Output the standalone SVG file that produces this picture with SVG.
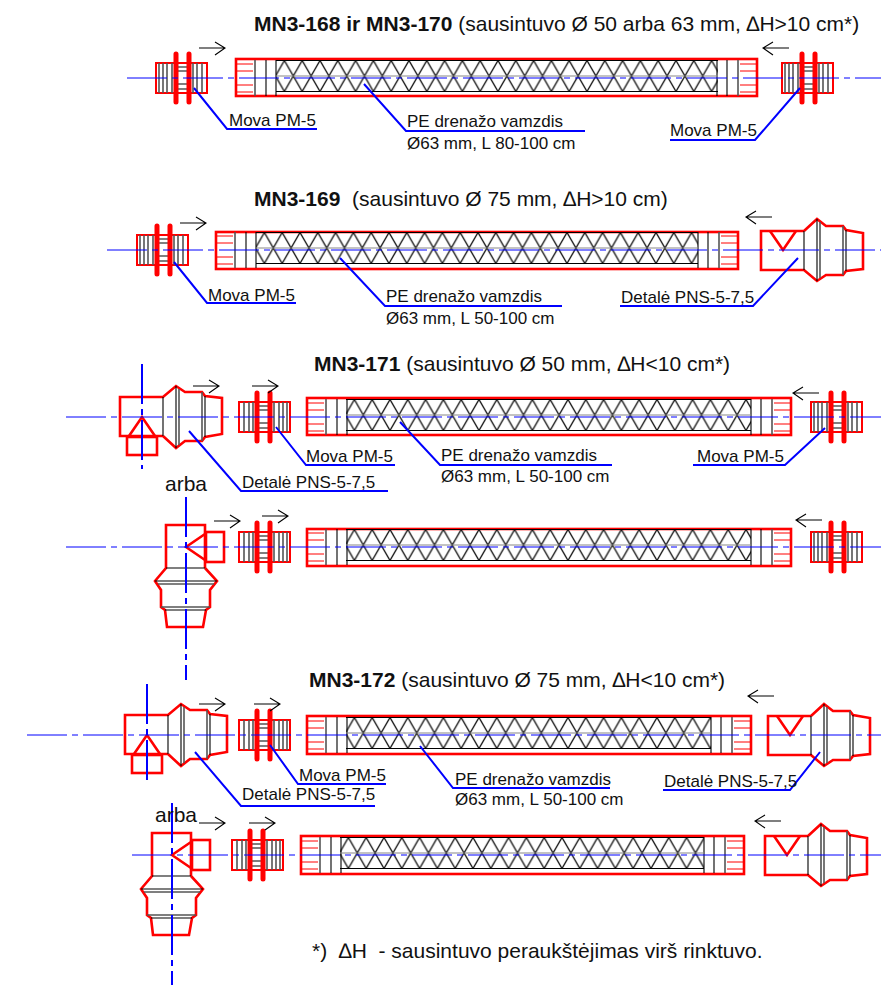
<svg xmlns="http://www.w3.org/2000/svg" width="881" height="985" viewBox="0 0 881 985">
<style>
text{font-family:"Liberation Sans",Arial,sans-serif;fill:#111;white-space:pre}
.t{font-size:21px}.t tspan{font-weight:bold}
.l{font-size:17px}.s{font-size:17px}.a{font-size:21px}
.r{fill:none;stroke:#f00;stroke-width:2.6;stroke-linejoin:miter}
.r2{fill:none;stroke:#f00;stroke-width:2}
.r1{fill:none;stroke:#f00;stroke-width:1}
.f{fill:none;stroke:#f00;stroke-width:5;stroke-linecap:round}
.k{fill:none;stroke:#000;stroke-width:1.1}
.g{fill:none;stroke:#555;stroke-width:1.6}
.m{fill:none;stroke:#888;stroke-width:1.2}
.c{fill:none;stroke:#00f;stroke-width:1;stroke-dasharray:40 5 6 5}
.v{fill:none;stroke:#00f;stroke-width:2;stroke-dasharray:40 5 6 5}
.q{fill:none;stroke:#00f;stroke-width:2}
.w{fill:none;stroke:#000;stroke-width:1.1}
</style>
<defs>
<pattern id="lat" patternUnits="userSpaceOnUse" x="8.4" y="-17.5" width="17.8" height="31">
<path fill="none" stroke="#000" stroke-width="1.2" d="M-1 -1.740L18.800 32.740M18.800 -1.740L-1 32.740"/>
</pattern>
<g id="arrow"><path class="w" d="M0 0H26M16 -6L26 0L16 7"/></g>
<g id="mova">
<rect class="r2" x="0" y="-15" width="51" height="30"/>
<path class="g" d="M3 -15V15M7 -15V15M11 -15V15M16 -15V15M37 -15V15M41 -15V15M46 -15V15"/>
<path class="k" d="M20 -11H33M20 -7H33M20 6H33M20 11H33"/>
<path class="f" d="M20 -24V24M33 -24V24"/>
</g>
<g id="cap">
<path class="r1" d="M1 -14H17M1 -7H17M1 7H17M1 14H17"/>
<path class="g" d="M19 -18V18"/>
<path class="k" d="M30 -18V18M40 -18V18"/>
</g>
<g id="pns">
<path class="r" d="M43 -19L56 -31L65 -24H82L85 -20L102 -17V19L85 21L82 25H65L56 31L43 20H0V-19H43"/>
<path class="r" d="M9 -19L22 0L35 -19"/>
<path class="k" d="M43 -19V20M56 -31V31M85 -20V21"/>
<path class="g" d="M59 -28V28M82 -24V25"/>
</g>
<rect id="sock" class="r" x="7" y="-38" width="30" height="18"/>
</defs>

<g id="tube-168">
<g transform="translate(276,78)"><rect class="r" x="-40" y="-19" width="521" height="37"/><use href="#cap" transform="translate(-40,0)"/><use href="#cap" transform="translate(481,0) scale(-1,1)"/><rect fill="url(#lat)" width="442" height="31" y="-17.500"/><path class="k" d="M0 -17.500H442M0 13.500H442"/><path class="m" d="M0 -2H442"/></g>
</g>
<g id="tube-169">
<g transform="translate(256,250)"><rect class="r" x="-40" y="-18" width="522" height="37"/><use href="#cap" transform="translate(-40,0)"/><use href="#cap" transform="translate(482,0) scale(-1,1)"/><rect fill="url(#lat)" width="442" height="31" y="-17.500"/><path class="k" d="M0 -17.500H442M0 13.500H442"/><path class="m" d="M0 -2H442"/></g>
</g>
<g id="tube-171">
<g transform="translate(346,417)"><rect class="r" x="-39" y="-19" width="484" height="37"/><use href="#cap" transform="translate(-39,0)"/><use href="#cap" transform="translate(445,0) scale(-1,1)"/><rect fill="url(#lat)" width="405" height="31" y="-17.500"/><path class="k" d="M0 -17.500H405M0 13.500H405"/><path class="m" d="M0 -2H405"/></g>
</g>
<g id="tube-171b">
<g transform="translate(346,547)"><rect class="r" x="-39" y="-18" width="484" height="37"/><use href="#cap" transform="translate(-39,0)"/><use href="#cap" transform="translate(445,0) scale(-1,1)"/><rect fill="url(#lat)" width="405" height="31" y="-17.500"/><path class="k" d="M0 -17.500H405M0 13.500H405"/><path class="m" d="M0 -2H405"/></g>
</g>
<g id="tube-172">
<g transform="translate(346,735)"><rect class="r" x="-39" y="-19" width="444" height="38"/><use href="#cap" transform="translate(-39,0)"/><use href="#cap" transform="translate(405,0) scale(-1,1)"/><rect fill="url(#lat)" width="365" height="31" y="-17.500"/><path class="k" d="M0 -17.500H365M0 13.500H365"/><path class="m" d="M0 -2H365"/></g>
</g>
<g id="tube-172b">
<g transform="translate(340,855)"><rect class="r" x="-39" y="-19" width="443" height="38"/><use href="#cap" transform="translate(-39,0)"/><use href="#cap" transform="translate(404,0) scale(-1,1)"/><rect fill="url(#lat)" width="364" height="31" y="-17.500"/><path class="k" d="M0 -17.500H364M0 13.500H364"/><path class="m" d="M0 -2H364"/></g>
</g>

<g id="mova-1"><use href="#mova" transform="translate(156,78)"/></g>
<g id="mova-2"><use href="#mova" transform="translate(782,78)"/></g>
<g id="mova-3"><use href="#mova" transform="translate(137,250)"/></g>
<g id="mova-4"><use href="#mova" transform="translate(290,417) scale(-1,1)"/></g>
<g id="mova-5"><use href="#mova" transform="translate(811,417)"/></g>
<g id="mova-6"><use href="#mova" transform="translate(290,547) scale(-1,1)"/></g>
<g id="mova-7"><use href="#mova" transform="translate(811,547)"/></g>
<g id="mova-8"><use href="#mova" transform="translate(290,735) scale(-1,1)"/></g>
<g id="mova-9"><use href="#mova" transform="translate(283,855) scale(-1,1)"/></g>

<g id="pns-1"><use href="#pns" transform="translate(761,250)"/></g>
<g id="pns-2"><use href="#pns" transform="translate(120,417) scale(1,-1)"/><use href="#sock" transform="translate(120,417) scale(1,-1)"/></g>
<g id="pns-3"><use href="#pns" transform="translate(186,525) rotate(90)"/><use href="#sock" transform="translate(186,525) rotate(90)"/></g>
<g id="pns-4"><use href="#pns" transform="translate(125,735) scale(1,-1)"/><use href="#sock" transform="translate(125,735) scale(1,-1)"/></g>
<g id="pns-5"><use href="#pns" transform="translate(768,735)"/></g>
<g id="pns-6"><use href="#pns" transform="translate(172,833) rotate(90)"/><use href="#sock" transform="translate(172,833) rotate(90)"/></g>
<g id="pns-7"><use href="#pns" transform="translate(765,855)"/></g>

<g id="connectors">
<path class="c" d="M127 78H881"/>
<path class="c" d="M107 250H881"/>
<path class="c" d="M66 417H881"/>
<path class="c" d="M66 547H881"/>
<path class="c" d="M27 735H881"/>
<path class="c" d="M132 855H881"/>
<path class="v" d="M142 364V469"/>
<path class="v" d="M186 497V680"/>
<path class="v" d="M147 684V780"/>
<path class="v" d="M172 803V985"/>
<path class="q" d="M194 88L227 129H317"/>
<path class="q" d="M364 84L406 131H585"/>
<path class="q" d="M800 88L755 140H670"/>
<path class="q" d="M174 262L207 303H296"/>
<path class="q" d="M340 258L385 306H562"/>
<path class="q" d="M798 258L753 306H620"/>
<path class="q" d="M276 427L306 465H395"/>
<path class="q" d="M400 422L440 465H612"/>
<path class="q" d="M825 428L785 465H693"/>
<path class="q" d="M189 431L241 491H388"/>
<path class="q" d="M270 745L298 784H386"/>
<path class="q" d="M420 746L453 788H610"/>
<path class="q" d="M820 752L790 790H663"/>
<path class="q" d="M195 752L241 806H375"/>
<use href="#arrow" transform="translate(199,48)"/>
<use href="#arrow" transform="translate(789,48) scale(-1,1)"/>
<use href="#arrow" transform="translate(180,223)"/>
<use href="#arrow" transform="translate(772,217) scale(-1,1)"/>
<use href="#arrow" transform="translate(193,386)"/>
<use href="#arrow" transform="translate(252,386)"/>
<use href="#arrow" transform="translate(819,393) scale(-1,1)"/>
<use href="#arrow" transform="translate(214,521)"/>
<use href="#arrow" transform="translate(262,516)"/>
<use href="#arrow" transform="translate(822,520) scale(-1,1)"/>
<use href="#arrow" transform="translate(199,704)"/>
<use href="#arrow" transform="translate(254,704)"/>
<use href="#arrow" transform="translate(774,696) scale(-1,1)"/>
<use href="#arrow" transform="translate(199,823)"/>
<use href="#arrow" transform="translate(249,823)"/>
<use href="#arrow" transform="translate(781,821) scale(-1,1)"/>
</g>

<g id="labels">
<text class="t" x="254" y="31"><tspan>MN3-168 ir MN3-170</tspan> (sausintuvo Ø 50 arba 63 mm, ∆H&gt;10 cm*)</text>
<text class="t" x="254" y="206"><tspan>MN3-169</tspan>  (sausintuvo Ø 75 mm, ∆H&gt;10 cm)</text>
<text class="t" x="314" y="371"><tspan>MN3-171</tspan> (sausintuvo Ø 50 mm, ∆H&lt;10 cm*)</text>
<text class="t" x="309" y="687"><tspan>MN3-172</tspan> (sausintuvo Ø 75 mm, ∆H&lt;10 cm*)</text>
<text class="l" x="229" y="126">Mova PM-5</text>
<text class="l" x="407" y="127">PE drenažo vamzdis</text>
<text class="s" x="407" y="149">Ø63 mm, L 80-100 cm</text>
<text class="l" x="670" y="136">Mova PM-5</text>
<text class="l" x="208" y="301">Mova PM-5</text>
<text class="l" x="386" y="302">PE drenažo vamzdis</text>
<text class="s" x="386" y="324">Ø63 mm, L 50-100 cm</text>
<text class="l" x="621" y="303">Detalė PNS-5-7,5</text>
<text class="l" x="306" y="462">Mova PM-5</text>
<text class="l" x="441" y="461">PE drenažo vamzdis</text>
<text class="s" x="441" y="482">Ø63 mm, L 50-100 cm</text>
<text class="l" x="697" y="462">Mova PM-5</text>
<text class="l" x="242" y="488">Detalė PNS-5-7,5</text>
<text class="a" x="165" y="491">arba</text>
<text class="l" x="299" y="781">Mova PM-5</text>
<text class="l" x="455" y="785">PE drenažo vamzdis</text>
<text class="s" x="455" y="805">Ø63 mm, L 50-100 cm</text>
<text class="l" x="664" y="787">Detalė PNS-5-7,5</text>
<text class="l" x="242" y="800">Detalė PNS-5-7,5</text>
<text class="a" x="155" y="822">arba</text>
<text class="t" x="312" y="958">*)  ∆H  - sausintuvo peraukštėjimas virš rinktuvo.</text>
</g>
</svg>
